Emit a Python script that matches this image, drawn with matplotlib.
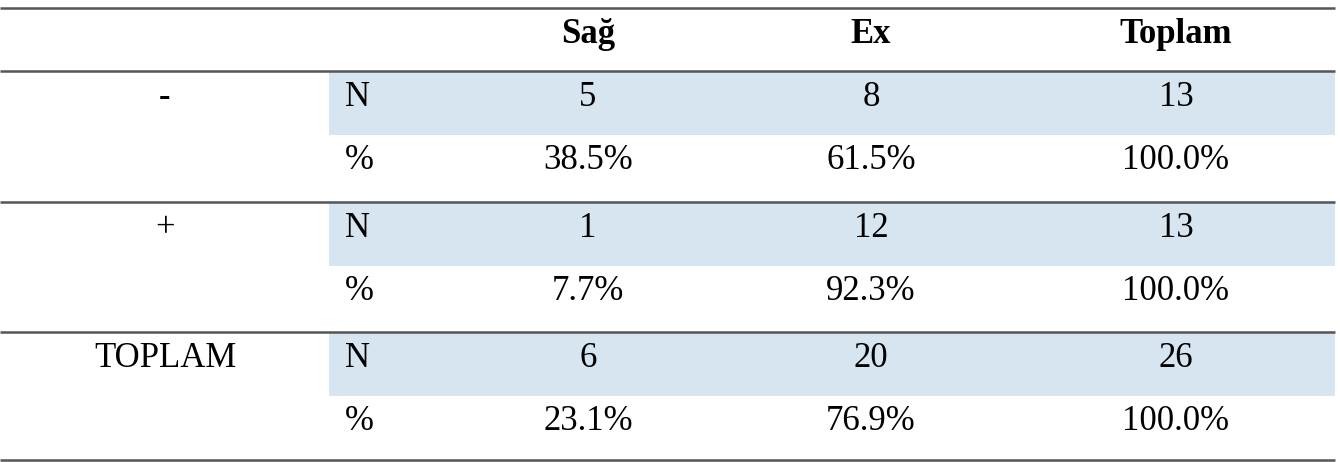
import matplotlib
matplotlib.use("Agg")
import matplotlib.pyplot as plt
from matplotlib.patches import Rectangle

# table content
col_headers = ["Sağ", "Ex", "Toplam"]
groups = ["-", "+", "TOPLAM"]
stat_labels = ["N", "%"]
n_values = [[5, 8, 13], [1, 12, 13], [6, 20, 26]]
pct_values = [["38.5%", "61.5%", "100.0%"],
              ["7.7%", "92.3%", "100.0%"],
              ["23.1%", "76.9%", "100.0%"]]

W, H = 1340, 462
fig = plt.figure(figsize=(W / 100, H / 100), dpi=100)
ax = fig.add_axes([0, 0, 1, 1])
ax.set_xlim(0, W)
ax.set_ylim(H, 0)
ax.axis("off")

font = "Liberation Serif"
fs = 25
line_col = "#555555"
shade = "#d7e5f1"

x_left, x_right = 0, 1335
shade_x0 = 329
group_x = 165
stat_x = 345
col_x = [588, 871, 1176]

rule_y = [8, 71, 202, 332, 460]
row_h = 64

# shaded N rows
for g in range(len(groups)):
    top = rule_y[g + 1]
    ax.add_patch(Rectangle((shade_x0, top), x_right - shade_x0, row_h,
                           facecolor=shade, edgecolor="none", zorder=0))

# horizontal rules
for y in rule_y:
    ax.plot([x_left, x_right], [y, y], color=line_col, lw=1.8,
            solid_capstyle="butt", zorder=2)

# header
for x, h in zip(col_x, col_headers):
    ax.text(x, 43, h, ha="center", va="baseline", fontsize=fs,
            fontweight="bold", family=font)

# body
for g, name in enumerate(groups):
    top = rule_y[g + 1]
    y_n = top + 35
    y_p = top + 98
    ax.text(group_x, y_n, name, ha="center", va="baseline", fontsize=fs,
            family=font, fontweight="bold" if name == "-" else "normal")
    ax.text(stat_x, y_n, stat_labels[0], ha="left", va="baseline",
            fontsize=fs, family=font)
    ax.text(stat_x, y_p, stat_labels[1], ha="left", va="baseline",
            fontsize=fs, family=font)
    for c, x in enumerate(col_x):
        ax.text(x, y_n, str(n_values[g][c]), ha="center", va="baseline",
                fontsize=fs, family=font)
        ax.text(x, y_p, pct_values[g][c], ha="center", va="baseline",
                fontsize=fs, family=font)

fig.savefig("out.png", dpi=100, facecolor="white")
